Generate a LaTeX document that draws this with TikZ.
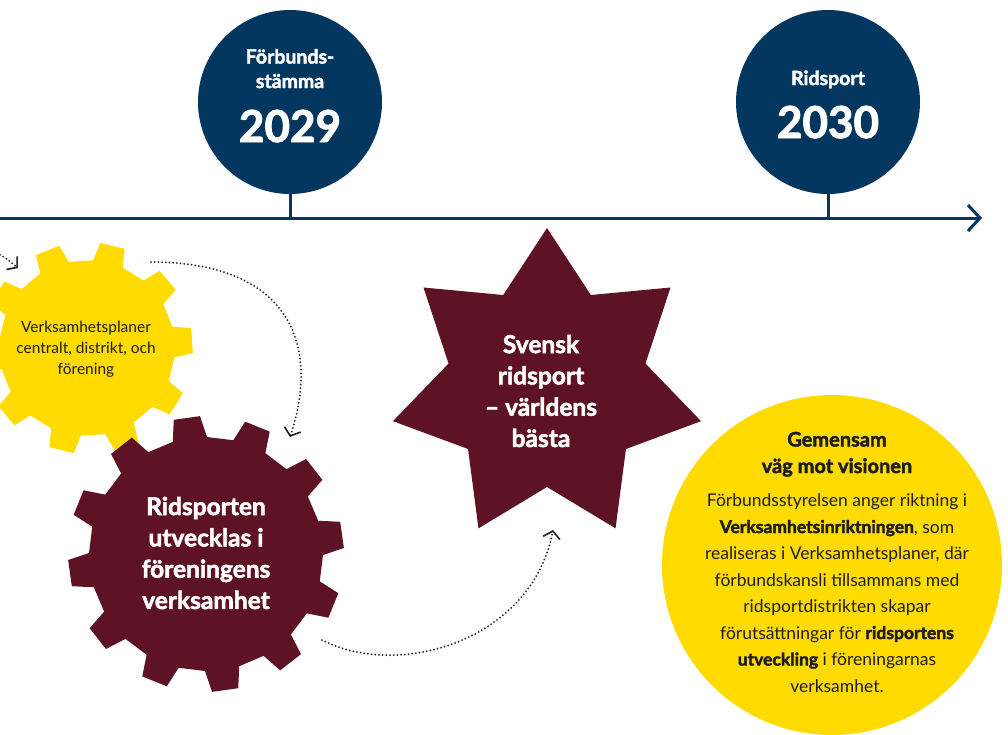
\documentclass[tikz,border=0pt]{standalone}
\usepackage{fontspec}
\setmainfont{Lato}
\newfontfamily\heavy{Lato}[BoldFeatures={FakeBold=2.2}]
\usetikzlibrary{arrows.meta}
\definecolor{navy}{HTML}{03375F}
\definecolor{maroon}{HTML}{5E1324}
\definecolor{sun}{HTML}{FFDB00}
\definecolor{ink}{HTML}{1E1E1E}
\tikzset{
  tl/.style={draw=navy, line width=3pt},
  yearcircle/.style={circle, fill=navy, minimum size=184pt, inner sep=0pt},
  yeartxt/.style={text=white, font=\heavy\bfseries\fontsize{19.5}{22}\selectfont, anchor=base},
  yearnum/.style={text=white, font=\heavy\bfseries\fontsize{44}{48}\selectfont, anchor=base},
  flow/.style={draw=ink, line width=2pt, dash pattern=on 0pt off 3.7pt, line cap=round,
    -{Straight Barb[length=7pt,width=17pt,line width=1.6pt]}},
  whitetxt/.style={text=white, align=center, font=\heavy\bfseries\fontsize{24.5}{31.3}\selectfont},
  strong/.style={},
}
\newcommand{\strongtxt}[1]{{\heavy\bfseries #1}}
\begin{document}
\begin{tikzpicture}[x=1pt,y=-1pt]
\useasboundingbox (0,0) rectangle (1008,734);
\clip (0,0) rectangle (1008,734);

% timeline
\coordinate (tstart) at (0,218);
\coordinate (tend) at (982,218);
\draw[tl, -{Straight Barb[length=12pt,width=26pt,line width=3pt]}] (tstart) -- (tend);

% year circles
\node[yearcircle] (y29) at (290,102) {};
\node[yeartxt] (y29a) at (290,63.5) {Förbunds-};
\node[yeartxt] (y29b) at (290,88) {stämma};
\node[yearnum] (y29c) at (290,142) {2029};
\draw[tl] (y29.south) -- (y29.south |- tstart);

\node[yearcircle] (y30) at (828,102) {};
\node[yeartxt] (y30a) at (828,85) {Ridsport};
\node[yearnum] (y30b) at (828,138) {2030};
\draw[tl] (y30.south) -- (y30.south |- tstart);

% yellow gear (10 teeth)
\fill[sun, shift={(87,348)}] ({112+10}:88pt)
  \foreach \k in {0,...,9}{
    -- ({112-36*\k+6.8}:106pt) -- ({112-36*\k-6.8}:106pt)
    -- ({112-36*\k-10}:88pt) -- ({112-36*(\k+1)+10}:88pt)
  } -- cycle;
\node[text=ink, align=center, font=\fontsize{15.5}{21}\selectfont] (plans) at (86,349)
  {Verksamhetsplaner\\centralt, distrikt, och\\förening};

% maroon gear (12 teeth)
\fill[maroon, shift={(206,554)}] ({98+8.5}:117pt)
  \foreach \k in {0,...,11}{
    -- ({98-30*\k+5.5}:138pt) -- ({98-30*\k-5.5}:138pt)
    -- ({98-30*\k-8.5}:117pt) -- ({98-30*(\k+1)+8.5}:117pt)
  } -- cycle;
\node[whitetxt] (club) at (206,553)
  {Ridsporten\\utvecklas i\\föreningens\\verksamhet};

% star
\fill[maroon, shift={(547,386)}] (90:158pt)
  \foreach \k in {1,...,7}{
    -- ({90+51.4286*\k-25.7143}:101pt) -- ({90+51.4286*\k}:158pt)
  } -- cycle;
\node[whitetxt] (vision) at (541,391)
  {Svensk\\ridsport\\– världens\\bästa};

% big yellow circle
\node[circle, fill=sun, minimum size=340pt, inner sep=0pt] (road) at (832,565) {};
\node[text=ink, align=center, font=\fontsize{17.5}{26.5}\selectfont] (roadtxt) at (837,562)
  {{\heavy\bfseries\fontsize{20}{27}\selectfont Gemensam}\\
   {\heavy\bfseries\fontsize{20}{27}\selectfont väg mot visionen}\\[7pt]
   Förbundsstyrelsen anger riktning i\\
   \strongtxt{Verksamhetsinriktningen}, som\\
   realiseras i Verksamhetsplaner, där\\
   förbundskansli tillsammans med\\
   ridsportdistrikten skapar\\
   förutsättningar för \strongtxt{ridsportens}\\
   \strongtxt{utveckling} i föreningarnas\\
   verksamhet.};

% dotted connectors
\coordinate (a1s) at (-14,250);
\coordinate (a1e) at (18,268);
\draw[flow] (a1s) .. controls (2,255) .. (a1e);

\coordinate (a2s) at (151,262);
\coordinate (a2e) at (290,437);
\draw[flow] (a2s) .. controls (285,262) and (322,340) .. (a2e);

\coordinate (a3s) at (322,640);
\coordinate (a3e) at (553,530);
\draw[flow] (a3s) .. controls (400,680) and (532,640) .. (a3e);
\end{tikzpicture}
\end{document}
